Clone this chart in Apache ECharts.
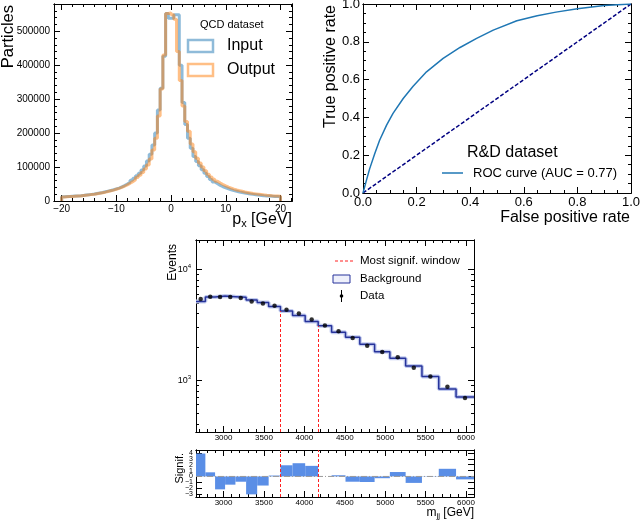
<!DOCTYPE html>
<html>
<head>
<meta charset="utf-8">
<script src="https://cdn.jsdelivr.net/npm/echarts@6/dist/echarts.min.js"></script>
<style>
html, body { margin: 0; padding: 0; background: #fff; }
#main { width: 640px; height: 523px; }
</style>
</head>
<body>
<div id="main"></div>
<script>
var FONT = 'Liberation Sans, Arial, sans-serif';

// ---- p_x histogram (QCD dataset), 0.5 GeV bins from -20 to 20, counts in thousands
var pxLow = -20, pxBinWidth = 0.5;
var inputCounts = [
    12.5, 13, 13.5, 14, 14.5, 15, 15.5, 16.5, 17.5, 18.5,
    19.5, 20.5, 22, 23.5, 25, 27, 29, 31, 33, 35.5,
    38, 41.5, 45.5, 50, 55, 61, 67, 74, 82, 91,
    103, 118, 138, 165, 200, 268, 332, 426, 552, 538,
    538, 548, 548, 400, 290, 225, 185, 155, 131, 116,
    104, 92, 82, 72, 63, 56, 51, 46, 42, 39,
    36, 33, 30.5, 28.5, 26.5, 25, 23.5, 22, 20.5, 19.5,
    18.5, 17.5, 16.5, 15.5, 15, 14.5, 14, 13.5, 13, 12.5
];
var outputCounts = [
    12, 12.5, 13, 13.5, 14, 14.5, 15, 16, 17, 18,
    19, 20, 21.5, 23, 24.5, 26, 28, 30, 32, 34.5,
    37, 40, 43.5, 47.5, 52, 57, 62.5, 69, 76, 84,
    94, 106, 124, 150, 185, 250, 330, 430, 552, 554,
    548, 535, 440, 355, 280, 234, 205, 168, 145, 126,
    112, 100, 89, 79, 71, 64, 58, 53, 48.5, 44.5,
    41, 38, 35, 32.5, 30.5, 28.5, 26.5, 25, 23.5, 22,
    21, 20, 19, 18, 17, 16.5, 15.5, 15, 14.5, 14
];
var pxTicks = [-20, -10, 0, 10, 20];
var pxMinorTicks = [-20, -18, -16, -14, -12, -10, -8, -6, -4, -2, 0, 2, 4, 6, 8, 10, 12, 14, 16, 18, 20, 22];
var countTicks = [0, 100000, 200000, 300000, 400000, 500000];
var countMinorTicks = [];
for (var c = 0; c <= 580000; c += 20000) countMinorTicks.push(c);

// ---- ROC curve (R&D dataset)
var fpr = [0, 0.0127, 0.025, 0.044, 0.062, 0.088, 0.112, 0.15, 0.187, 0.237, 0.299,
    0.362, 0.424, 0.486, 0.574, 0.65, 0.72, 0.8, 0.9, 1.0];
var tpr = [0, 0.067, 0.129, 0.209, 0.279, 0.359, 0.421, 0.5, 0.565, 0.641, 0.712,
    0.77, 0.818, 0.862, 0.911, 0.938, 0.957, 0.975, 0.992, 1.0];
var chanceLine = [0, 1];
var rocTicks = [0, 0.2, 0.4, 0.6, 0.8, 1.0];
var rocMinorTicks = [];
for (var r = 0; r <= 20; r++) rocMinorTicks.push(r / 20);

// ---- dijet mass spectrum
var mjjEdges = [2659, 2775, 2895, 3019, 3147, 3279, 3416, 3558, 3704, 3854, 4010,
    4171, 4337, 4509, 4686, 4869, 5058, 5253, 5455, 5663, 5877, 6099];
var background = [5150, 5650, 5770, 5690, 5610, 5300, 5050, 4640, 4210, 3840, 3390,
    3100, 2715, 2445, 2110, 1810, 1575, 1340, 1080, 834, 705];
var dataCounts = [5410, 5690, 5650, 5650, 5520, 5150, 4940, 4710, 4330, 4010, 3530,
    3120, 2770, 2410, 2050, 1800, 1610, 1295, 1080, 870, 690];
var signif = [3.9, 0.7, -2.2, -1.4, -0.9, -3.05, -1.55, 0.15, 1.9, 2.25, 1.8,
    0, 0.2, -0.9, -0.95, -0.3, 0.75, -1.1, -0.05, 1.3, -0.5];
var signalWindow = [3704, 4171];
var eventsMin = 340, eventsMax = 18500;
var mjjTicks = [3000, 3500, 4000, 4500, 5000, 5500, 6000];
var mjjMinorTicks = [];
for (var m = 2700; m <= 6000; m += 100) mjjMinorTicks.push(m);
var eventsTicks = [1000, 10000];
var eventsMinorTicks = [400, 500, 600, 700, 800, 900, 2000, 3000, 4000, 5000, 6000, 7000, 8000, 9000];
var signifEvenTicks = [-2, 0, 2, 4];
var signifOddTicks = [-3, -1, 1, 3];
var signifTicks = [-3, -2, -1, 0, 1, 2, 3, 4];

function plain(v) {
    return String(v).replace('-', '\u2212');
}

// step outline of a histogram, dropping to zero at both ends
function histPoints(counts) {
    var pts = [[pxLow, 0]];
    for (var i = 0; i < counts.length; i++) {
        pts.push([pxLow + i * pxBinWidth, counts[i] * 1000]);
    }
    var end = pxLow + counts.length * pxBinWidth;
    pts.push([end, counts[counts.length - 1] * 1000]);
    pts.push([end, 0]);
    return pts;
}

function mjjSteps(vals) {
    var pts = [];
    for (var i = 0; i < vals.length; i++) pts.push([mjjEdges[i], vals[i]]);
    pts.push([mjjEdges[mjjEdges.length - 1], vals[vals.length - 1]]);
    return pts;
}

// four axes per side pair: labelled major, minor, and mirrored copies (ROOT style box)
function boxAxes(dim, grid, o) {
    var sides = dim === 'x' ? ['bottom', 'top'] : ['left', 'right'];
    var out = [];
    sides.forEach(function (pos, s) {
        [o.majors, o.minors].forEach(function (ticks, k) {
            var ax = {
                type: o.type || 'value',
                gridIndex: grid,
                position: pos,
                min: o.min,
                max: o.max,
                axisLine: { show: true, onZero: false, lineStyle: { color: '#000', width: 1 } },
                axisTick: { show: true, inside: true, length: k ? 3 : 6, customValues: ticks, lineStyle: { color: '#000', width: 1 } },
                axisLabel: { show: false },
                splitLine: { show: false },
                minorTick: { show: false }
            };
            if (o.type === 'log') ax.logBase = 10;
            var labels = !s && !k ? (o.labels || o.majors) : (!s && k ? o.labels2 : null);
            if (labels) {
                ax.axisLabel = Object.assign({
                    show: true, customValues: labels, color: '#000', fontFamily: FONT,
                    interval: 0, hideOverlap: false, formatter: plain
                }, o.label);
            }
            out.push(ax);
        });
    });
    return out;
}

var rocData = fpr.map(function (x, i) { return [x, tpr[i]]; });
var centers = [];
for (var i = 0; i < dataCounts.length; i++) centers.push([(mjjEdges[i] + mjjEdges[i + 1]) / 2, dataCounts[i]]);
var signifBars = signif.map(function (s, i) { return [mjjEdges[i], mjjEdges[i + 1], s]; });
var windowMarks = signalWindow.map(function (e) {
    var top = background[mjjEdges.indexOf(e)];
    return [{ coord: [e, eventsMin] }, { coord: [e, top] }];
});
var oneDecimal = function (v) { return v.toFixed(1); };

var chart = echarts.init(document.getElementById('main'));
var option = {
    animation: false,
    backgroundColor: '#fff',
    textStyle: { fontFamily: FONT },
    grid: [
        { left: 54, top: 4, width: 238, height: 197, outerBoundsMode: 'none' },
        { left: 363, top: 4, width: 268, height: 189, outerBoundsMode: 'none' },
        { left: 196, top: 240, width: 278, height: 192, outerBoundsMode: 'none' },
        { left: 196, top: 450, width: 278, height: 47, outerBoundsMode: 'none' }
    ],
    xAxis: [].concat(
        boxAxes('x', 0, { min: -21.4, max: 22.1, majors: pxTicks, minors: pxMinorTicks, label: { fontSize: 10, margin: 3 } }),
        boxAxes('x', 1, { min: 0, max: 1, majors: rocTicks, minors: rocMinorTicks, label: { fontSize: 13, margin: 3, formatter: oneDecimal } }),
        boxAxes('x', 2, { min: mjjEdges[0], max: mjjEdges[mjjEdges.length - 1], majors: mjjTicks, minors: mjjMinorTicks, label: { fontSize: 8, margin: 2 } }),
        boxAxes('x', 3, { min: mjjEdges[0], max: mjjEdges[mjjEdges.length - 1], majors: mjjTicks, minors: mjjMinorTicks, label: { fontSize: 8, margin: 2 } })
    ),
    yAxis: [].concat(
        boxAxes('y', 0, { min: 0, max: 580000, majors: countTicks, minors: countMinorTicks, label: { fontSize: 10, margin: 4 } }),
        boxAxes('y', 1, { min: 0, max: 1, majors: rocTicks, minors: rocMinorTicks, label: { fontSize: 13, margin: 3, formatter: oneDecimal } }),
        boxAxes('y', 2, {
            type: 'log', min: eventsMin, max: eventsMax, majors: eventsTicks, minors: eventsMinorTicks,
            label: {
                margin: 5,
                formatter: function (v) { return '{b|10}{s|' + Math.round(Math.log10(v)) + '}'; },
                rich: { b: { fontSize: 9, color: '#000' }, s: { fontSize: 6, color: '#000', padding: [0, 0, 6, 0] } }
            }
        }),
        boxAxes('y', 3, {
            min: -3.5, max: 4.5, majors: signifTicks, minors: signifTicks,
            labels: signifEvenTicks, labels2: signifOddTicks, label: { fontSize: 7, margin: 3 }
        })
    ),
    series: [
        {
            name: 'Input', type: 'line', xAxisIndex: 0, yAxisIndex: 0, step: 'end', symbol: 'none',
            data: histPoints(inputCounts),
            lineStyle: { color: '#1f77b4', width: 3, opacity: 0.5 }
        },
        {
            name: 'Output', type: 'line', xAxisIndex: 0, yAxisIndex: 0, step: 'end', symbol: 'none',
            data: histPoints(outputCounts),
            lineStyle: { color: '#ff7f0e', width: 3, opacity: 0.5 }
        },
        {
            name: 'chance', type: 'line', xAxisIndex: 4, yAxisIndex: 4, symbol: 'none',
            data: chanceLine.map(function (v) { return [v, v]; }),
            lineStyle: { color: '#000080', width: 1.5, type: [4, 2] }
        },
        {
            name: 'ROC curve', type: 'line', xAxisIndex: 4, yAxisIndex: 4, symbol: 'none',
            data: rocData,
            lineStyle: { color: '#1f77b4', width: 1.5 }
        },
        {
            name: 'bkg band', type: 'line', xAxisIndex: 8, yAxisIndex: 8, step: 'end', symbol: 'none',
            data: mjjSteps(background), z: 1,
            lineStyle: { color: '#c3ccef', width: 4 }
        },
        {
            name: 'Background', type: 'line', xAxisIndex: 8, yAxisIndex: 8, step: 'end', symbol: 'none',
            data: mjjSteps(background), z: 3,
            lineStyle: { color: '#27339b', width: 1.5 },
            markLine: {
                silent: true, symbol: ['none', 'none'], label: { show: false },
                lineStyle: { color: '#ff2020', width: 1, type: [3, 2] },
                data: windowMarks
            }
        },
        {
            name: 'Data', type: 'scatter', xAxisIndex: 8, yAxisIndex: 8, symbolSize: 4.5, z: 4,
            data: centers,
            itemStyle: { color: '#000' }
        },
        {
            name: 'Signif.', type: 'custom', xAxisIndex: 12, yAxisIndex: 12,
            data: signifBars,
            encode: { x: [0, 1], y: 2 },
            renderItem: function (params, api) {
                var p0 = api.coord([api.value(0), 0]);
                var p1 = api.coord([api.value(1), api.value(2)]);
                return {
                    type: 'rect',
                    shape: { x: p0[0], y: Math.min(p0[1], p1[1]), width: p1[0] - p0[0], height: Math.abs(p1[1] - p0[1]) },
                    style: { fill: '#5a8ee6' }
                };
            }
        },
        {
            name: 'zero', type: 'line', xAxisIndex: 12, yAxisIndex: 12, symbol: 'none', z: 3,
            data: [[mjjEdges[0], 0], [mjjEdges[mjjEdges.length - 1], 0]],
            lineStyle: { color: '#999', width: 1, type: [6, 2, 1, 2] },
            markLine: {
                silent: true, symbol: ['none', 'none'], label: { show: false },
                lineStyle: { color: '#ff2020', width: 1, type: [3, 2] },
                data: signalWindow.map(function (e) { return { xAxis: e }; })
            }
        }
    ],
    graphic: [
        // top-left panel texts
        { type: 'text', x: 8, y: 5, rotation: Math.PI / 2, style: { text: 'Particles', align: 'right', verticalAlign: 'middle', fontSize: 16.5, fontFamily: FONT, fill: '#000' } },
        {
            type: 'text', x: 292, y: 220,
            style: {
                text: '{a|p}{b|x}{a| [GeV]}', align: 'right', verticalAlign: 'middle', fontFamily: FONT, fill: '#000',
                rich: { a: { fontSize: 16, fontFamily: FONT }, b: { fontSize: 11, fontFamily: FONT, padding: [7, 0, 0, 0] } }
            }
        },
        { type: 'text', x: 200, y: 25, style: { text: 'QCD dataset', align: 'left', verticalAlign: 'middle', fontSize: 11, fontFamily: FONT, fill: '#000' } },
        { type: 'rect', shape: { x: 188, y: 40, width: 25, height: 12 }, style: { fill: 'none', stroke: '#1f77b4', lineWidth: 2.5, opacity: 0.5 } },
        { type: 'text', x: 227, y: 46, style: { text: 'Input', align: 'left', verticalAlign: 'middle', fontSize: 16, fontFamily: FONT, fill: '#000' } },
        { type: 'rect', shape: { x: 188, y: 64, width: 25, height: 12 }, style: { fill: 'none', stroke: '#ff7f0e', lineWidth: 2.5, opacity: 0.5 } },
        { type: 'text', x: 227, y: 70, style: { text: 'Output', align: 'left', verticalAlign: 'middle', fontSize: 16, fontFamily: FONT, fill: '#000' } },
        // ROC panel texts
        { type: 'text', x: 331, y: 5, rotation: Math.PI / 2, style: { text: 'True positive rate', align: 'right', verticalAlign: 'middle', fontSize: 16, fontFamily: FONT, fill: '#000' } },
        { type: 'text', x: 630, y: 218, style: { text: 'False positive rate', align: 'right', verticalAlign: 'middle', fontSize: 16, fontFamily: FONT, fill: '#000' } },
        { type: 'text', x: 467, y: 153, style: { text: 'R&D dataset', align: 'left', verticalAlign: 'middle', fontSize: 16, fontFamily: FONT, fill: '#000' } },
        { type: 'line', shape: { x1: 442, y1: 173, x2: 463, y2: 173 }, style: { stroke: '#1f77b4', lineWidth: 1.5 } },
        { type: 'text', x: 473, y: 173, style: { text: 'ROC curve (AUC = 0.77)', align: 'left', verticalAlign: 'middle', fontSize: 13, fontFamily: FONT, fill: '#000' } },
        // dijet panel texts
        { type: 'text', x: 173, y: 244, rotation: Math.PI / 2, style: { text: 'Events', align: 'right', verticalAlign: 'middle', fontSize: 12, fontFamily: FONT, fill: '#000' } },
        { type: 'line', shape: { x1: 335, y1: 261, x2: 353, y2: 261 }, style: { stroke: '#ff2020', lineWidth: 1, lineDash: [3, 2] } },
        { type: 'text', x: 360, y: 261, style: { text: 'Most signif. window', align: 'left', verticalAlign: 'middle', fontSize: 11.5, fontFamily: FONT, fill: '#000' } },
        { type: 'rect', shape: { x: 333, y: 275, width: 17, height: 8 }, style: { fill: '#eef0fb', stroke: '#27339b', lineWidth: 1 } },
        { type: 'text', x: 360, y: 279, style: { text: 'Background', align: 'left', verticalAlign: 'middle', fontSize: 11.5, fontFamily: FONT, fill: '#000' } },
        { type: 'line', shape: { x1: 341.5, y1: 290, x2: 341.5, y2: 302 }, style: { stroke: '#000', lineWidth: 1 } },
        { type: 'circle', shape: { cx: 341.5, cy: 296, r: 1.8 }, style: { fill: '#000' } },
        { type: 'text', x: 360, y: 296, style: { text: 'Data', align: 'left', verticalAlign: 'middle', fontSize: 11.5, fontFamily: FONT, fill: '#000' } },
        { type: 'text', x: 180, y: 453, rotation: Math.PI / 2, style: { text: 'Signif.', align: 'right', verticalAlign: 'middle', fontSize: 11, fontFamily: FONT, fill: '#000' } },
        {
            type: 'text', x: 474, y: 513,
            style: {
                text: '{a|m}{b|jj}{a| [GeV]}', align: 'right', verticalAlign: 'middle', fontFamily: FONT, fill: '#000',
                rich: { a: { fontSize: 12, fontFamily: FONT }, b: { fontSize: 8, fontFamily: FONT, padding: [5, 0, 0, 0] } }
            }
        }
    ]
};
chart.setOption(option);
</script>
</body>
</html>
